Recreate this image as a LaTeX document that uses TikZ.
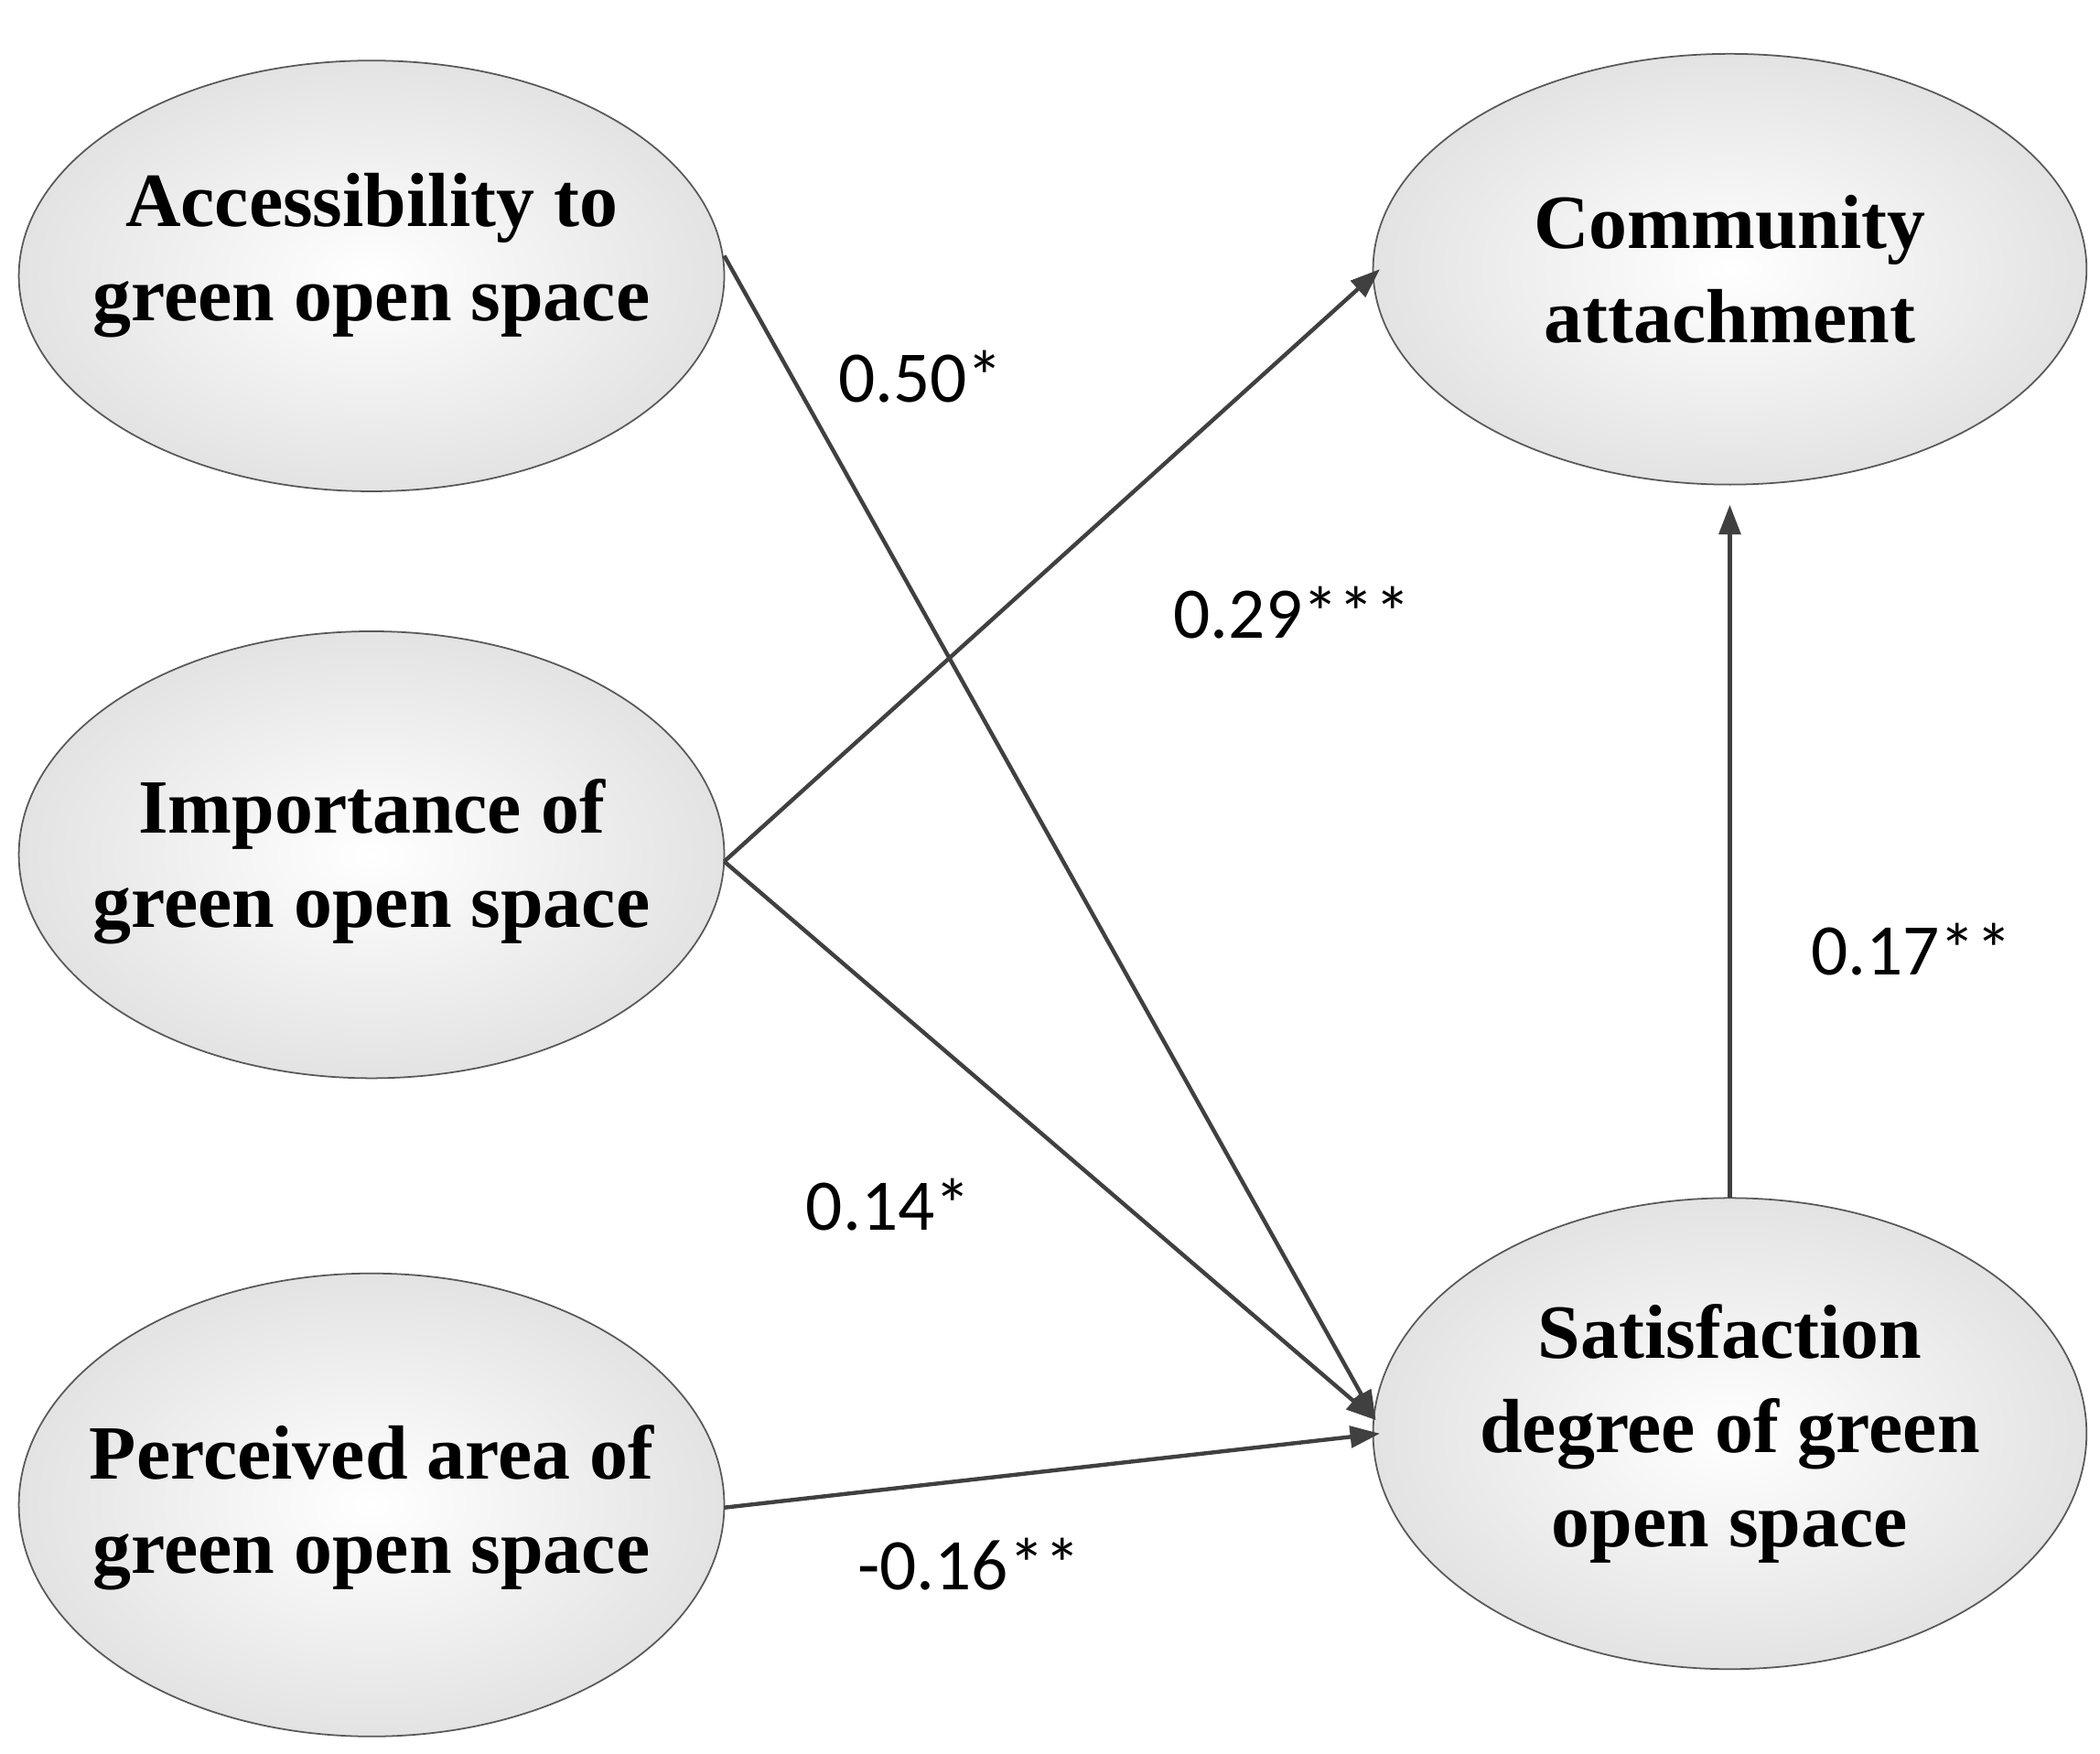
\documentclass[tikz,border=0pt]{standalone}
\usepackage{fontspec}
\setmainfont{Liberation Serif}
\newfontfamily\lblfont{Carlito}
\usetikzlibrary{shapes.geometric,arrows.meta}
\begin{document}
\begin{tikzpicture}[x=1pt,y=-1pt,
  oval/.style={draw=gray!70!black,line width=1.2pt,inner color=white,outer color=gray!22},
  var/.style={align=center,inner sep=0pt,font=\fontsize{57}{70}\selectfont\bfseries},
  path/.style={draw=black!75,line width=3pt,-{Triangle[length=22pt,width=16pt]}},
  lbl/.style={font=\lblfont\fontsize{54}{60}\selectfont}]
\useasboundingbox (0,0) rectangle (1560,1303);
\shade[oval] (276,205) ellipse [x radius=262, y radius=160];
\shade[oval] (276,635) ellipse [x radius=262, y radius=166];
\shade[oval] (276,1118) ellipse [x radius=262, y radius=172];
\shade[oval] (1285,200) ellipse [x radius=265, y radius=160];
\shade[oval] (1285,1065) ellipse [x radius=265, y radius=175];
\node[var] (acc) at (276,190) {Accessibility to\\green open space};
\node[var] (imp) at (276,640) {Importance of\\green open space};
\node[var] (per) at (276,1120) {Perceived area of\\green open space};
\node[var] (com) at (1285,200) {Community\\attachment};
\node[var] (sat) at (1285,1065) {Satisfaction\\degree of green\\open space};
\coordinate (accO) at (538,190);
\coordinate (impO) at (538,640);
\coordinate (perO) at (538,1120);
\coordinate (satI) at (1022,1055);
\coordinate (satI2) at (1025,1065);
\coordinate (comI) at (1025,200);
\coordinate (satT) at (1285,890);
\coordinate (comB) at (1285,375);
\draw[path] (impO) -- (comI);
\draw[path] (accO) -- (satI);
\draw[path] (impO) -- (satI);
\draw[path] (perO) -- (satI2);
\draw[path] (satT) -- (comB);
\node[lbl] (l1) at (684,280) {0.50*};
\node[lbl] (l2) at (960,455) {0.29***};
\node[lbl] (l3) at (1420,705) {0.17**};
\node[lbl] (l4) at (660,895) {0.14*};
\node[lbl] (l5) at (720,1162) {-0.16**};
\end{tikzpicture}
\end{document}
